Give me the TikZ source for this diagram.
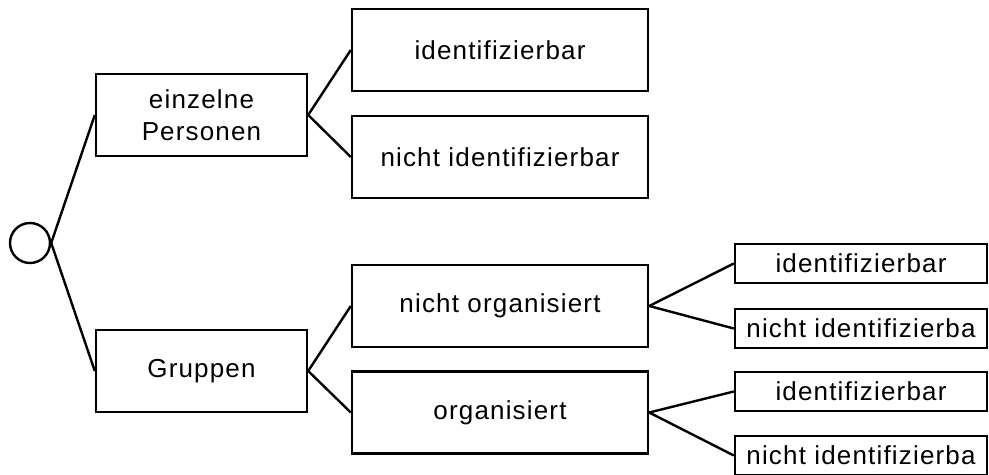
\documentclass[tikz,border=0pt]{standalone}
\usepackage{fontspec}
\setmainfont[LetterSpace=4.5]{Liberation Sans}

\begin{document}
\begin{tikzpicture}[x=0.5pt,y=-0.5pt,line width=1.2pt,
    box/.style={draw,rectangle,inner sep=0pt,align=center,
      font=\fontsize{13}{16}\selectfont},
    bigbox/.style={box,minimum width=105.5pt,minimum height=41pt},
    midbox/.style={box,minimum width=148pt,minimum height=41pt},
    smallbox/.style={box,minimum width=126pt,minimum height=19.5pt}]

  % fix the visible area first
  \useasboundingbox (0,0) rectangle (989,475);

  % the root
  \node [draw,circle,inner sep=0pt,minimum size=20pt] (root) at (30,243) {};

  % first level
  \node [bigbox] (einzeln) at (201.5,115) {einzelne\\Personen};
  \node [bigbox] (gruppen) at (201.5,371) {Gruppen};

  % second level
  \node [midbox] (pid)  at (500,50)    {identifizierbar};
  \node [midbox] (pnid) at (500,157)   {nicht identifizierbar};
  \node [midbox] (norg) at (500,306)   {nicht organisiert};
  \node [midbox] (org)  at (500,412.5) {organisiert};

  % third level, cut at the right border
  \node [smallbox] (nid)  at (861,263.5) {identifizierbar};
  \node [smallbox] (nnid) at (861,328.5) {nicht identifizierba};
  \node [smallbox] (oid)  at (861,391.5) {identifizierbar};
  \node [smallbox] (onid) at (861,455.5) {nicht identifizierba};

  % the branches
  \foreach \from/\to in {root/einzeln,root/gruppen,
                         einzeln/pid,einzeln/pnid,
                         gruppen/norg,gruppen/org,
                         norg/nid,norg/nnid,
                         org/oid,org/onid}
    \draw (\from.east) -- (\to.west);
\end{tikzpicture}
\end{document}
